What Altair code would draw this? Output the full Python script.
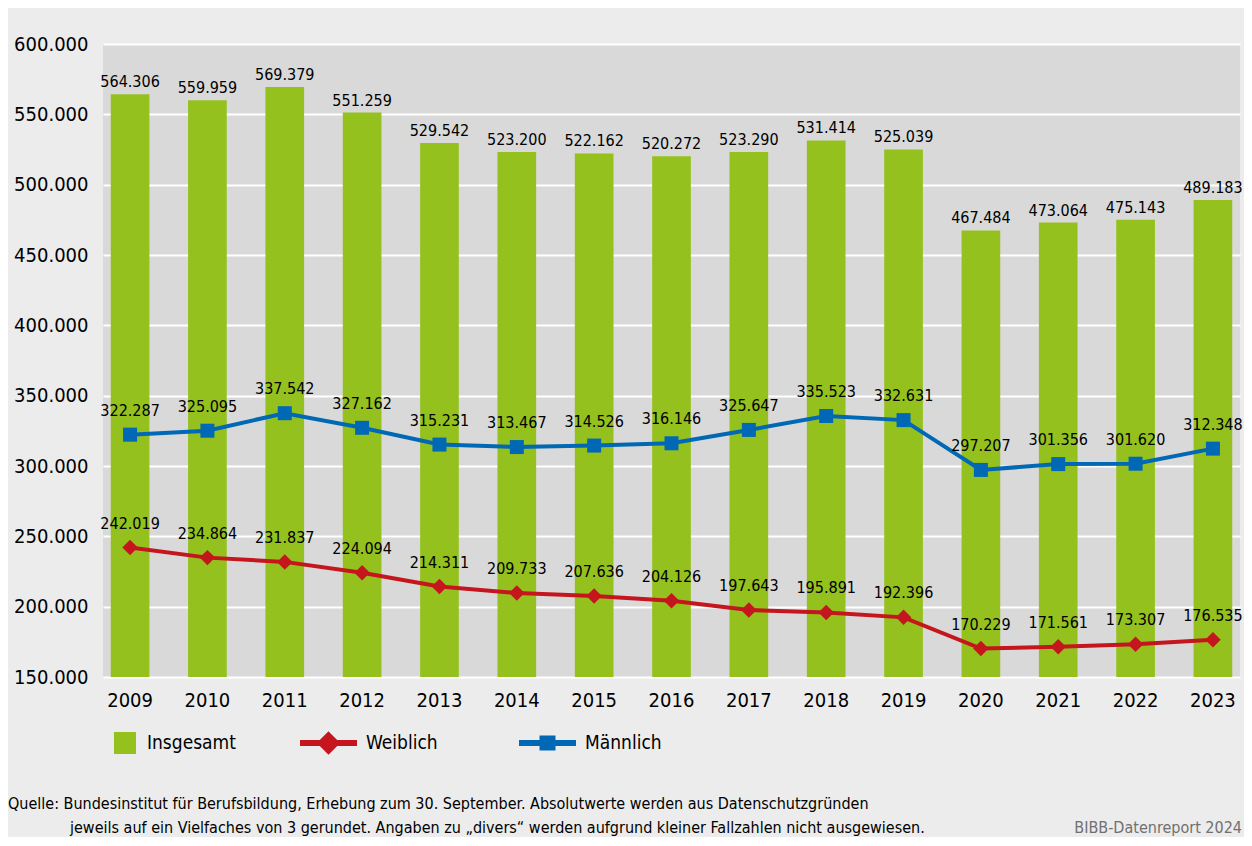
import altair as alt
import pandas as pd

years = [str(y) for y in range(2009, 2024)]
insgesamt = [564306, 559959, 569379, 551259, 529542, 523200, 522162, 520272,
             523290, 531414, 525039, 467484, 473064, 475143, 489183]
weiblich = [242019, 234864, 231837, 224094, 214311, 209733, 207636, 204126,
            197643, 195891, 192396, 170229, 171561, 173307, 176535]
maennlich = [322287, 325095, 337542, 327162, 315231, 313467, 314526, 316146,
             325647, 335523, 332631, 297207, 301356, 301620, 312348]
GREEN, RED, BLUE = "#95c11f", "#c5161d", "#0068b4"
y_ticks = list(range(150000, 600001, 50000))

source_line1 = "Quelle: Bundesinstitut für Berufsbildung, Erhebung zum 30. September. Absolutwerte werden aus Datenschutzgründen"
source_line2 = "jeweils auf ein Vielfaches von 3 gerundet. Angaben zu „divers“ werden aufgrund kleiner Fallzahlen nicht ausgewiesen."
brand = "BIBB-Datenreport 2024"

df_i = pd.DataFrame({"Jahr": years, "Wert": insgesamt, "Serie": "Insgesamt"})
df_w = pd.DataFrame({"Jahr": years, "Wert": weiblich, "Serie": "Weiblich"})
df_m = pd.DataFrame({"Jahr": years, "Wert": maennlich, "Serie": "Männlich"})

NUMFONT = "DejaVu Sans Condensed"
TXTFONT = "DejaVu Sans Condensed"
LABEL = "replace(format(datum.Wert, ',d'), ',', '.')"

x = alt.X("Jahr:O", title=None,
          scale=alt.Scale(paddingInner=0.5, paddingOuter=0.1),
          axis=alt.Axis(labelAngle=0, ticks=False, tickSize=0, domain=False,
                        labelPadding=13, labelFont=NUMFONT, labelFontSize=20,
                        labelColor="black", grid=False))
y = alt.Y("Wert:Q", title=None,
          scale=alt.Scale(domain=[150000, 600000], zero=False, nice=False),
          axis=alt.Axis(values=y_ticks, ticks=False, tickSize=0, domain=False,
                        labelPadding=15, labelFont=NUMFONT, labelFontSize=20,
                        labelColor="black", grid=True, gridColor="white",
                        gridWidth=2,
                        labelExpr="replace(format(datum.value, ',d'), ',', '.')"))

def leg(lx, ly, path, fill, stroke, sw, loff):
    return alt.Legend(title=None, orient="none", legendX=lx, legendY=ly,
                      symbolType=path, symbolSize=400, symbolFillColor=fill,
                      symbolStrokeColor=stroke, symbolStrokeWidth=sw,
                      symbolOpacity=1, labelFont=TXTFONT, labelFontSize=19,
                      labelColor="black", labelOffset=loff, labelLimit=0)

leg_i = leg(12, 689, "M-1.1,-1.1H1.1V1.1H-1.1Z", GREEN, GREEN, 0, 12)
leg_w = leg(194, 686, "M-1,0H4.7M1.85,-0.75L2.6,0L1.85,0.75L1.1,0Z", RED, RED, 6, 43)
leg_m = leg(413, 686, "M-1,0H4.7M1.35,-0.45H2.35V0.45H1.35Z", BLUE, BLUE, 6, 43)

bars_base = alt.Chart(df_i).transform_calculate(label=LABEL)
bars = bars_base.mark_bar().encode(
    x=x, y=y, y2=alt.datum(150000),
    fill=alt.Fill("Serie:N", scale=alt.Scale(domain=["Insgesamt"], range=[GREEN]), legend=leg_i))
bar_text = bars_base.mark_text(
    dy=-7, baseline="alphabetic", font=NUMFONT, fontSize=16, color="black"
).encode(x=x, y=y, text="label:N")

w_base = alt.Chart(df_w).transform_calculate(label=LABEL)
line_w = w_base.mark_line(strokeWidth=4).encode(
    x=x, y=y,
    color=alt.Color("Serie:N", scale=alt.Scale(domain=["Weiblich"], range=[RED]), legend=leg_w))
pts_w = w_base.mark_point(shape="diamond", filled=True, size=240, opacity=1,
                          color=RED).encode(x=x, y=y)
txt_w = w_base.mark_text(dy=-19, baseline="alphabetic", font=NUMFONT,
                         fontSize=16, color="black").encode(x=x, y=y, text="label:N")

m_base = alt.Chart(df_m).transform_calculate(label=LABEL)
line_m = m_base.mark_line(strokeWidth=4).encode(
    x=x, y=y,
    stroke=alt.Stroke("Serie:N", scale=alt.Scale(domain=["Männlich"], range=[BLUE]), legend=leg_m))
pts_m = m_base.mark_point(shape="square", filled=True, size=196, opacity=1,
                          color=BLUE).encode(x=x, y=y)
txt_m = m_base.mark_text(dy=-19, baseline="alphabetic", font=NUMFONT,
                         fontSize=16, color="black").encode(x=x, y=y, text="label:N")

foot1 = alt.Chart(pd.DataFrame({"t": [source_line1]})).mark_text(
    align="left", baseline="alphabetic", font=TXTFONT, fontSize=16, color="black"
).encode(text="t:N", x=alt.value(-95), y=alt.value(765))
foot2 = alt.Chart(pd.DataFrame({"t": [source_line2]})).mark_text(
    align="left", baseline="alphabetic", font=TXTFONT, fontSize=16, color="black"
).encode(text="t:N", x=alt.value(-33), y=alt.value(789))
foot3 = alt.Chart(pd.DataFrame({"t": [brand]})).mark_text(
    align="right", baseline="alphabetic", font=TXTFONT, fontSize=16, color="#707070"
).encode(text="t:N", x=alt.value(1139), y=alt.value(789))

chart = alt.layer(bars, bar_text, line_w, pts_w, txt_w, line_m, pts_m, txt_m,
                  foot1, foot2, foot3).properties(
    width=1137, height=633,
    autosize=alt.AutoSizeParams(type="none"),
    padding={"left": 95, "top": 36, "right": 4, "bottom": 160},
    background="#ececec",
).configure_view(fill="#d9d9d9", stroke=None)

chart.save("out.html", embed_options={"renderer": "svg", "actions": False})
